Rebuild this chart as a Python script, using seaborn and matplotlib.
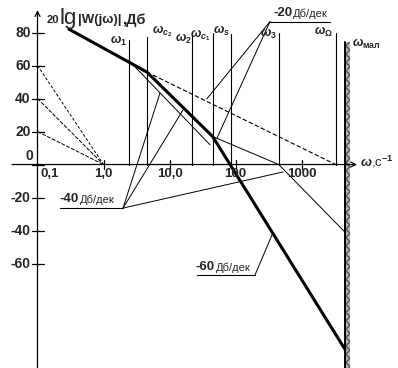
import numpy as np
import pandas as pd
import matplotlib
matplotlib.use("Agg")
import matplotlib.pyplot as plt
import matplotlib.transforms as mtrans
import seaborn as sns

# ---------------- data ----------------
omega_main = [0.3, 4.56, 45.0, 4560.0]          # thick LAFC
db_main = [82, 56, 17, -112]

omega_thin_a = [2.43, 41.0]                      # thin -40 dB/dec from w1
db_thin_a = [63, 12]

omega_thin_b = [45.0, 452.0, 4560.0]             # thin -20 / -40 branch
db_thin_b = [17, 0, -41]

omega_dash = [4.56, 3300.0]                      # dashed -20 dB/dec
db_dash = [56, 0]

omega_asym = [0.1, 1.0]                          # dashed construction lines
db_asym_60 = [60, 0]
db_asym_40 = [40, 0]
db_asym_20 = [20, 0]

break_freqs = [2.43, 4.56, 22.3, 45.0, 85.0, 452.0, 3300.0]
break_labels = [r"$\omega_1$", r"$\omega_{c_2}$", r"$\omega_2$", r"$\omega_{c_1}$",
                r"$\omega_s$", r"$\omega_3$", r"$\omega_\Omega$"]
break_tops = [75.5, 77, 79, 79.5, 79, 79.5, 79.5]
omega_small = 4560.0
small_label = r"$\omega_{\mathrm{мал}}$"

y_ticks = [80, 60, 40, 20, 0, -20, -40, -60]
y_tick_labels = ["80", "60", "40", "20", "0", "-20", "-40", "-60"]
x_ticks = [0.1, 1, 10, 100, 1000]
x_tick_labels = ["0,1", "1,0", "10,0", "100", "1000"]

# annotation leaders (omega, dB)
lead20_start = (333, 86.6); lead20_end = (2704, 86.6)
lead20_targets = [(36.6, 39.7), (52.5, 16.1)]
lead40_start = (0.219, -26.4); lead40_end = (1.975, -26.4)
lead40_targets = [(7.18, 43.3), (16.0, 33.0), (525, -4.5)]
lead60_start = (26.1, -67); lead60_end = (197, -67)
lead60_targets = [(357, -42.7)]

# ---------------- style ----------------
sns.set_style("white")
plt.rcParams['font.family'] = ['Liberation Sans', 'DejaVu Sans']
plt.rcParams['mathtext.fontset'] = 'custom'
plt.rcParams['mathtext.it'] = 'Liberation Sans:italic:bold'
plt.rcParams['mathtext.rm'] = 'Liberation Sans:bold'
plt.rcParams['mathtext.bf'] = 'Liberation Sans:bold'

W, H = 398, 368
fig = plt.figure(figsize=(W / 100, H / 100), dpi=100)
ax = fig.add_axes([0, 0, 1, 1])
ax.set_xscale('log')
ax.set_xlim(10 ** -1.5682, 10 ** 4.4621)
ax.set_ylim(-123.3, 99.7)
ax.set_axis_off()

K = 'black'

def seg(xs, ys, lw=0.8, ls='-', color=K):
    df = pd.DataFrame({'w': xs, 'db': ys})
    sns.lineplot(data=df, x='w', y='db', ax=ax, sort=False, estimator=None,
                 color=color, lw=lw, linestyle=ls)

# axes lines
ax.annotate('', xy=(0.1, 93.6), xytext=(0.1, -123.3),
            arrowprops=dict(arrowstyle='->', lw=0.9, color=K, shrinkA=0, shrinkB=0,
                            mutation_scale=9))
ax.annotate('', xy=(6934, 0), xytext=(0.0411, 0),
            arrowprops=dict(arrowstyle='->', lw=0.9, color=K, shrinkA=0, shrinkB=0,
                            mutation_scale=9))

# ticks
dx = 10 ** (6 / 66)
for v in y_ticks:
    ax.plot([0.1 / dx, 0.1 * dx], [v, v], color=K, lw=0.9)
for v in x_ticks[1:]:
    ax.plot([v, v], [-2.5, 2.5], color=K, lw=0.9)

def off(dxp, dyp):
    return mtrans.offset_copy(ax.transData, fig=fig, x=dxp, y=dyp, units='dots')

for v, lab in zip(y_ticks, y_tick_labels):
    if v == 0:
        ax.text(0.1, v, lab, transform=off(-4, 9), ha='right', va='center',
                fontsize=10, fontweight='bold')
    else:
        ax.text(0.1, v, lab, transform=off(-7, 0), ha='right', va='center',
                fontsize=10, fontweight='bold')
for v, lab in zip(x_ticks, x_tick_labels):
    if v == 0.1:
        ax.text(v, 0, lab, transform=off(3, -9), ha='left', va='center',
                fontsize=9.5, fontweight='bold')
    else:
        ax.text(v, 0, lab, transform=off(0, -9), ha='center', va='center',
                fontsize=9.5, fontweight='bold')

# vertical break-frequency lines
for f, top in zip(break_freqs, break_tops):
    ax.plot([f, f], [0, top], color=K, lw=0.8)

label_pos = [(-2, 'right', 41), (5, 'left', 31), (-1, 'right', 39), (-2, 'right', 35),
             (-1, 'right', 31), (-2, 'right', 34), (-3, 'right', 32)]
for f, lab, (dxp, ha, ypx) in zip(break_freqs, break_labels, label_pos):
    ax.text(f, 0, lab, transform=off(dxp, 164.5 - ypx), ha=ha, va='center', fontsize=9)

# small-time-constant boundary (hatched)
ax.fill_betweenx([-123.3, 74], omega_small, omega_small * 10 ** (5 / 66),
                 facecolor='#b8b8b8', edgecolor='#555555', hatch='xxxx', lw=0)
ax.plot([omega_small, omega_small], [-123.3, 74], color=K, lw=1.4)
ax.text(omega_small, 0, small_label, transform=off(7, 164.5 - 44), ha='left',
        va='center', fontsize=9)

# construction lines
seg(omega_asym, db_asym_60, lw=0.7, ls=(0, (3, 2)))
seg(omega_asym, db_asym_40, lw=0.7, ls=(0, (4, 1.5)))
seg(omega_asym, db_asym_20, lw=0.7, ls=(0, (4, 1.5)))
seg(omega_dash, db_dash, lw=0.8, ls=(0, (4, 2)))
seg(omega_thin_a, db_thin_a, lw=0.7)
seg(omega_thin_b, db_thin_b, lw=0.7)
seg(omega_main, db_main, lw=2.2)

# leaders and slope labels
ax.plot([lead20_start[0], lead20_end[0]], [lead20_start[1]] * 2, color=K, lw=0.8)
for t in lead20_targets:
    ax.plot([lead20_start[0], t[0]], [lead20_start[1], t[1]], color=K, lw=0.7)
ax.plot([lead40_start[0], lead40_end[0]], [lead40_start[1]] * 2, color=K, lw=0.8)
for t in lead40_targets:
    ax.plot([lead40_end[0], t[0]], [lead40_end[1], t[1]], color=K, lw=0.7)
ax.plot([lead60_start[0], lead60_end[0]], [lead60_start[1]] * 2, color=K, lw=0.8)
for t in lead60_targets:
    ax.plot([lead60_end[0], t[0]], [lead60_end[1], t[1]], color=K, lw=0.7)

def ftext(xp, yp, s, **kw):
    fig.text(xp / W, 1 - yp / H, s, **kw)

ftext(273, 13, "-20", fontsize=9.5, fontweight='bold', va='center', ha='left')
ftext(293, 13.5, "Дб/дек", fontsize=8, va='center', ha='left')
ftext(59, 199, "-40", fontsize=9.5, fontweight='bold', va='center', ha='left')
ftext(80, 199.5, "Дб/дек", fontsize=8, va='center', ha='left')
ftext(196, 267.5, "-60", fontsize=9.5, fontweight='bold', va='center', ha='left')
ftext(216, 268, "Дб/дек", fontsize=8, va='center', ha='left')

# ordinate title
ftext(47, 20, "20", fontsize=8, fontweight='bold', va='center', ha='left')
ftext(60, 18.5, "lg", fontsize=16, va='center', ha='left')
ftext(78, 20, "|W(jω)|", fontsize=9.5, fontweight='bold', va='center', ha='left')
ftext(122, 20, ",Дб", fontsize=10.5, fontweight='bold', va='center', ha='left')

# abscissa title
ftext(360, 162, r"$\omega$,c$^{-1}$", fontsize=9.5, va='center', ha='left')

fig.savefig("out.png", dpi=100)
